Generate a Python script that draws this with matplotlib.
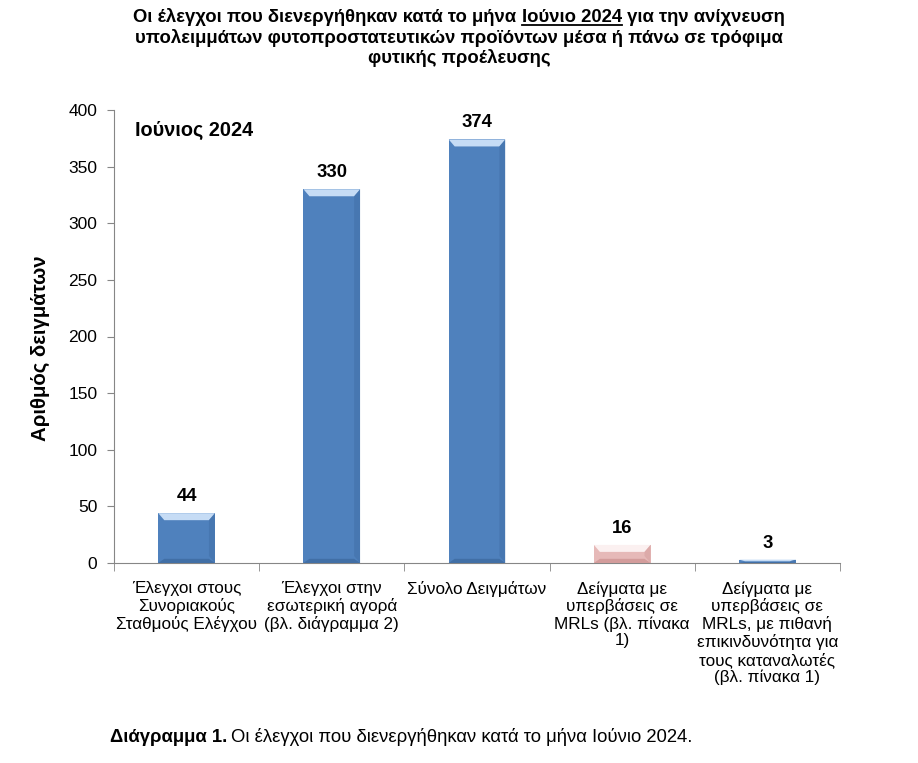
import numpy as np
import matplotlib.pyplot as plt
from matplotlib.patches import Polygon

categories = ["Έλεγχοι στους\nΣυνοριακούς\nΣταθμούς Ελέγχου",
              "Έλεγχοι στην\nεσωτερική αγορά\n(βλ. διάγραμμα 2)",
              "Σύνολο Δειγμάτων",
              "Δείγματα με\nυπερβάσεις σε\nMRLs (βλ. πίνακα\n1)",
              "Δείγματα με\nυπερβάσεις σε\nMRLs, με πιθανή\nεπικινδυνότητα για\nτους καταναλωτές\n(βλ. πίνακα 1)"]
values = [44, 330, 374, 16, 3]
bar_colors = ["#4f81bd", "#4f81bd", "#4f81bd", "#e6b9b8", "#4f81bd"]
top_colors = ["#c6dcf5", "#c6dcf5", "#c6dcf5", "#fbf0f0", "#c6dcf5"]
side_colors = ["#416fa6", "#416fa6", "#416fa6", "#d39c9b", "#416fa6"]
y_ticks = [0, 50, 100, 150, 200, 250, 300, 350, 400]

title_parts = ["Οι έλεγχοι που διενεργήθηκαν κατά το μήνα ", "Ιούνιο 2024", " για την ανίχνευση"]
title_rest = "υπολειμμάτων φυτοπροστατευτικών προϊόντων μέσα ή πάνω σε τρόφιμα\nφυτικής προέλευσης"

plt.rcParams['font.family'] = ['Liberation Sans', 'DejaVu Sans']

W, H = 918, 763
fig = plt.figure(figsize=(W / 100, H / 100), dpi=100)
ax = fig.add_axes([114 / W, 1 - 563 / H, 726 / W, 453 / H])

x = np.arange(len(values))
width = 0.39
ax.bar(x, values, width=width, color=bar_colors, zorder=2)

# bevel effect on each bar
px_x = (726 / 5)
px_y = 453 / 400
for xi, v, c_top, c_side in zip(x, values, top_colors, side_colors):
    bx = 6 / px_x
    by = min(7 / px_y, v / 2)
    l, r = xi - width / 2, xi + width / 2
    ax.add_patch(Polygon([[l, v], [r, v], [r - bx, v - by], [l + bx, v - by]],
                         closed=True, color=c_top, lw=0, zorder=3))
    ax.add_patch(Polygon([[l, 0], [r, 0], [r - bx, by * 0.6], [l + bx, by * 0.6]],
                         closed=True, color=c_side, lw=0, zorder=3))
    ax.add_patch(Polygon([[r, 0], [r, v], [r - bx, v - by], [r - bx, by]],
                         closed=True, color=c_side, lw=0, zorder=3, alpha=0.5))
    ax.text(xi, v + 8 / px_y, str(v), ha='center', va='bottom',
            fontsize=13.3, fontweight='bold')

ax.set_xlim(-0.5, len(values) - 0.5)
ax.set_ylim(0, 400)
ax.set_yticks(y_ticks)
ax.tick_params(axis='y', labelsize=12.5, length=5, color='#868686', pad=7)
ax.set_xticks(x)
ax.set_xticklabels(categories, fontsize=12.3, linespacing=1.14, va='top')
ax.tick_params(axis='x', length=0, pad=13)
ax.set_xticks(np.arange(-0.5, len(values)), minor=True)
ax.tick_params(axis='x', which='minor', length=6, color='#868686')
for s in ['top', 'right']:
    ax.spines[s].set_visible(False)
for s in ['left', 'bottom']:
    ax.spines[s].set_color('#868686')

ax.text(0.029, 0.954, "Ιούνιος 2024", transform=ax.transAxes, ha='left',
        va='center', fontsize=14.3, fontweight='bold')

fig.text(40 / W, 1 - 348 / H, "Αριθμός δειγμάτων", rotation=90, ha='center',
         va='center', fontsize=14.7, fontweight='bold')

# title, first line with underlined month
renderer = fig.canvas.get_renderer()
pieces = [fig.text(0, 0, p, fontsize=13.3, fontweight='bold')
          for p in title_parts]
widths = [t.get_window_extent(renderer).width for t in pieces]
x0 = W / 2 - sum(widths) / 2
y1 = 1 - 22 / H
for t, w in zip(pieces, widths):
    t.set_position((x0 / W, y1))
    t.set_va('baseline')
    x0 += w
ux0 = (W / 2 - sum(widths) / 2 + widths[0]) / W
ux1 = ux0 + widths[1] / W
fig.add_artist(plt.Line2D([ux0, ux1], [y1 - 3 / H, y1 - 3 / H], color='black',
                          lw=1.3, transform=fig.transFigure))
fig.text(0.5, 1 - 29 / H, title_rest, ha='center', va='top', fontsize=13.3,
         fontweight='bold', linespacing=1.12)

# caption
cap_b = fig.text(110 / W, 1 - 737 / H, "Διάγραμμα 1.", fontsize=13.3,
                 fontweight='bold', va='center')
wb = cap_b.get_window_extent(renderer).width
fig.text((110 + wb + 4) / W, 1 - 737 / H,
         "Οι έλεγχοι που διενεργήθηκαν κατά το μήνα Ιούνιο 2024.",
         fontsize=13.3, va='center')

fig.savefig("out.png", dpi=100)
